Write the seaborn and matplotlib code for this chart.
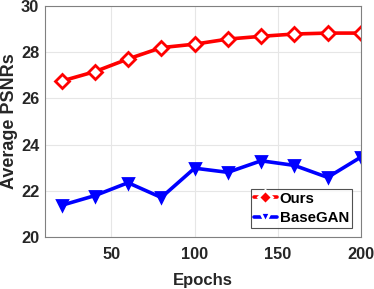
import matplotlib
matplotlib.use("Agg")
import matplotlib.pyplot as plt
import seaborn as sns
import pandas as pd

epochs = [20, 40, 60, 80, 100, 120, 140, 160, 180, 200]
ours = [26.75, 27.16, 27.71, 28.20, 28.35, 28.57, 28.69, 28.79, 28.83, 28.83]
basegan = [21.37, 21.79, 22.35, 21.71, 22.98, 22.80, 23.30, 23.10, 22.58, 23.46]
series_names = ["Ours", "BaseGAN"]
x_ticks = [50, 100, 150, 200]
y_ticks = [20, 22, 24, 26, 28, 30]

sns.set_theme(style="whitegrid")
plt.rcParams['font.family'] = ['Liberation Sans', 'DejaVu Sans']
plt.rcParams['font.weight'] = 'bold'

df = pd.DataFrame({
    "Epochs": epochs * 2,
    "PSNR": ours + basegan,
    "Method": [series_names[0]] * len(epochs) + [series_names[1]] * len(epochs),
})

fig = plt.figure(figsize=(3.74, 2.89), dpi=100)
ax = fig.add_axes([0.120, 0.180, 0.845, 0.799])

sns.lineplot(data=df, x="Epochs", y="PSNR", hue="Method", style="Method",
             palette={"Ours": "#ff0000", "BaseGAN": "#0000ff"},
             markers={"Ours": "D", "BaseGAN": "v"},
             dashes=False, linewidth=2.6, markersize=7,
             markeredgewidth=2.0, ax=ax)
for line, mfc in zip(ax.lines[:2], ["white", "#0000ff"]):
    line.set_markerfacecolor(mfc)
    line.set_markeredgecolor(line.get_color())

ax.set_xlim(10, 200)
ax.set_ylim(20, 30)
ax.set_xticks(x_ticks)
ax.set_yticks(y_ticks)
ax.grid(True, color="#e6e6e6", linewidth=0.8)
for s in ax.spines.values():
    s.set_visible(True)
    s.set_color("#808080")
    s.set_linewidth(0.8)
ax.tick_params(direction="in", length=3, width=0.8, color="#808080",
               labelsize=11.8, labelcolor="#262626")
ax.tick_params(axis="x", pad=7)
ax.tick_params(axis="y", pad=4)
for lab in ax.get_xticklabels() + ax.get_yticklabels():
    lab.set_fontweight("bold")
ax.set_xlabel("Epochs", fontsize=12, fontweight="bold", color="#262626", labelpad=8)
ax.set_ylabel("Average PSNRs", fontsize=13, fontweight="bold", color="#262626", labelpad=2)

leg = ax.legend(loc="lower right", fontsize=10.8, frameon=True, fancybox=False,
                edgecolor="#262626", borderaxespad=0.6, handlelength=1.5,
                handletextpad=0.2, borderpad=0.2, labelspacing=0.35)
leg.get_frame().set_linewidth(0.8)
for t in leg.get_texts():
    t.set_fontweight("bold")
    t.set_color("black")

fig.savefig("out.png", dpi=100)
